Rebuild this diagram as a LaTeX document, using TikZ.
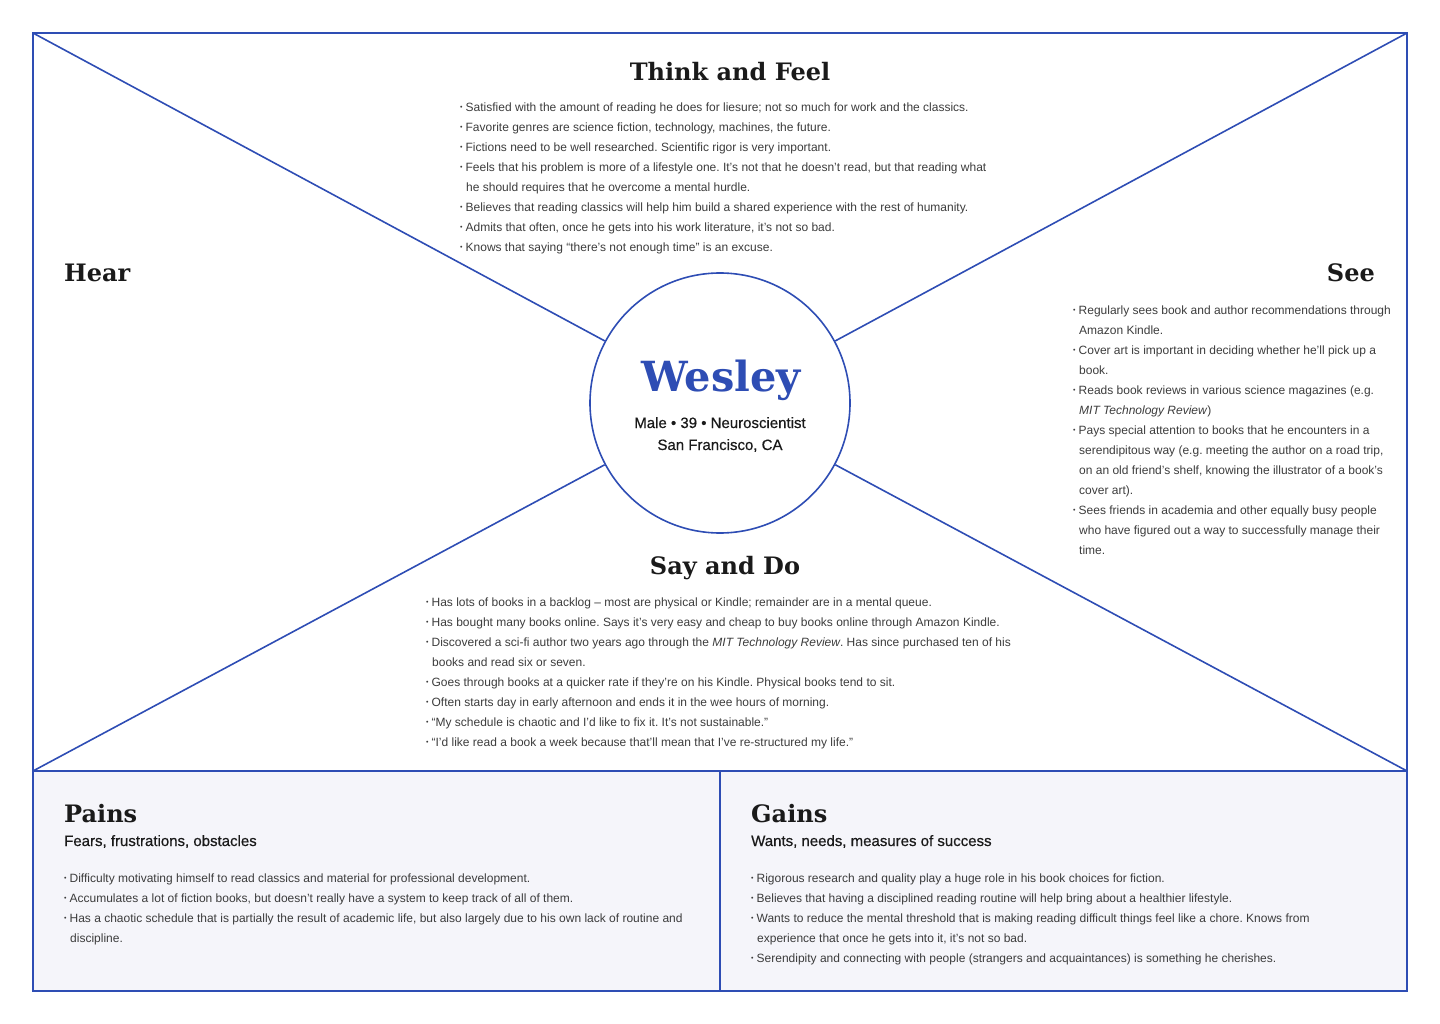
\documentclass[tikz,border=0pt]{standalone}
\usepackage{fontspec}
\setmainfont{Liberation Sans}
\newfontfamily\headfont{DejaVu Serif}
\newfontfamily\midfont[FakeBold=0.5]{Liberation Sans}
\usetikzlibrary{positioning}
\definecolor{mapBlue}{RGB}{46,77,180}
\definecolor{paneTint}{RGB}{245,245,250}
\definecolor{inkDark}{RGB}{26,26,26}
\definecolor{inkBody}{RGB}{60,60,60}
\newcommand{\bul}{\raisebox{0.2ex}{\fontsize{7}{7}\selectfont •}\hspace{3pt}}
\newcommand{\cont}{\hspace*{6pt}}
\frenchspacing
\tikzset{
    % Frame and spokes
    mapLine/.style={draw=mapBlue, line width=1.6pt},
    % Quadrant headings
    quadTitle/.style={font=\headfont\bfseries\fontsize{24}{28}\selectfont, text=inkDark, inner sep=0pt, anchor=base},
    subTitle/.style={font=\midfont\fontsize{15}{18}\selectfont, text=inkDark, inner sep=0pt, anchor=base west},
    % Bullet lists
    noteList/.style={font=\fontsize{12}{20}\selectfont, text=inkBody, align=left, inner sep=0pt, anchor=north west}
}

\begin{document}
\begin{tikzpicture}[x=1pt, y=-1pt]
    \useasboundingbox (0,0) rectangle (1440,1024);

    % --- Frame coordinates ---
    \coordinate (cornerTL) at (33,33);
    \coordinate (cornerTR) at (1407,33);
    \coordinate (cornerML) at (33,771);
    \coordinate (cornerMR) at (1407,771);
    \coordinate (cornerBR) at (1407,991);
    \coordinate (splitTop) at (720,771);
    \coordinate (splitBot) at (720,991);

    % --- Bottom panes ---
    \fill[paneTint] (cornerML) rectangle (cornerBR);
    \draw[mapLine] (cornerTL) rectangle (cornerBR);
    \draw[mapLine] (cornerML) -- (cornerMR);
    \draw[mapLine] (splitTop) -- (splitBot);

    % --- Persona in the middle ---
    \node (persona) [circle, draw=mapBlue, line width=1.6pt, fill=white, minimum size=260pt, inner sep=0pt] at (720,403) {};
    \node (personaName) [anchor=base, inner sep=0pt, text=mapBlue, font=\headfont\bfseries\fontsize{41.5}{44}\selectfont] at (721,391) {Wesley};
    \node (personaInfo) [anchor=base, inner sep=0pt, text=inkDark, font=\midfont\fontsize{15}{18}\selectfont] at (720,428) {Male • 39 • Neuroscientist};
    \node (personaCity) [anchor=base, inner sep=0pt, text=inkDark, font=\midfont\fontsize{15}{18}\selectfont] at (720,450) {San Francisco, CA};

    % --- Spokes ---
    \draw[mapLine] (cornerTL) -- (persona);
    \draw[mapLine] (cornerTR) -- (persona);
    \draw[mapLine] (cornerML) -- (persona);
    \draw[mapLine] (cornerMR) -- (persona);

    % --- Think and Feel ---
    \node (thinkTitle) [quadTitle] at (730,81) {Think and Feel};
    \node (thinkList) [noteList] at (460,97) {\strut\bul Satisfied with the amount of reading he does for liesure; not so much for work and the classics.\\
        \bul Favorite genres are science fiction, technology, machines, the future.\\
        \bul Fictions need to be well researched. Scientific rigor is very important.\\
        \bul Feels that his problem is more of a lifestyle one. It’s not that he doesn’t read, but that reading what\\
        \cont he should requires that he overcome a mental hurdle.\\
        \bul Believes that reading classics will help him build a shared experience with the rest of humanity.\\
        \bul Admits that often, once he gets into his work literature, it’s not so bad.\\
        \bul Knows that saying “there’s not enough time” is an excuse.};

    % --- Hear ---
    \node (hearTitle) [quadTitle, anchor=base west] at (64,282) {Hear};

    % --- See ---
    \node (seeTitle) [quadTitle, anchor=base east] at (1375,282) {See};
    \node (seeList) [noteList] at (1073,300) {\strut\bul Regularly sees book and author recommendations through\\
        \cont Amazon Kindle.\\
        \bul Cover art is important in deciding whether he’ll pick up a\\
        \cont book.\\
        \bul Reads book reviews in various science magazines (e.g.\\
        \cont \textit{MIT Technology Review})\\
        \bul Pays special attention to books that he encounters in a\\
        \cont serendipitous way (e.g. meeting the author on a road trip,\\
        \cont on an old friend’s shelf, knowing the illustrator of a book’s\\
        \cont cover art).\\
        \bul Sees friends in academia and other equally busy people\\
        \cont who have figured out a way to successfully manage their\\
        \cont time.};

    % --- Say and Do ---
    \node (sayTitle) [quadTitle] at (725,574) {Say and Do};
    \node (sayList) [noteList] at (426,592) {\strut\bul Has lots of books in a backlog – most are physical or Kindle; remainder are in a mental queue.\\
        \bul Has bought many books online. Says it’s very easy and cheap to buy books online through Amazon Kindle.\\
        \bul Discovered a sci-fi author two years ago through the \textit{MIT Technology Review}. Has since purchased ten of his\\
        \cont books and read six or seven.\\
        \bul Goes through books at a quicker rate if they’re on his Kindle. Physical books tend to sit.\\
        \bul Often starts day in early afternoon and ends it in the wee hours of morning.\\
        \bul “My schedule is chaotic and I’d like to fix it. It’s not sustainable.”\\
        \bul “I’d like read a book a week because that’ll mean that I’ve re-structured my life.”};

    % --- Pains ---
    \node (painsTitle) [quadTitle, anchor=base west] at (64,822) {Pains};
    \node (painsSub) [subTitle] at (64,846) {Fears, frustrations, obstacles};
    \node (painsList) [noteList] at (64,868) {\strut\bul Difficulty motivating himself to read classics and material for professional development.\\
        \bul Accumulates a lot of fiction books, but doesn’t really have a system to keep track of all of them.\\
        \bul Has a chaotic schedule that is partially the result of academic life, but also largely due to his own lack of routine and\\
        \cont discipline.};

    % --- Gains ---
    \node (gainsTitle) [quadTitle, anchor=base west] at (751,822) {Gains};
    \node (gainsSub) [subTitle] at (751,846) {Wants, needs, measures of success};
    \node (gainsList) [noteList] at (751,868) {\strut\bul Rigorous research and quality play a huge role in his book choices for fiction.\\
        \bul Believes that having a disciplined reading routine will help bring about a healthier lifestyle.\\
        \bul Wants to reduce the mental threshold that is making reading difficult things feel like a chore. Knows from\\
        \cont experience that once he gets into it, it’s not so bad.\\
        \bul Serendipity and connecting with people (strangers and acquaintances) is something he cherishes.};

\end{tikzpicture}
\end{document}
